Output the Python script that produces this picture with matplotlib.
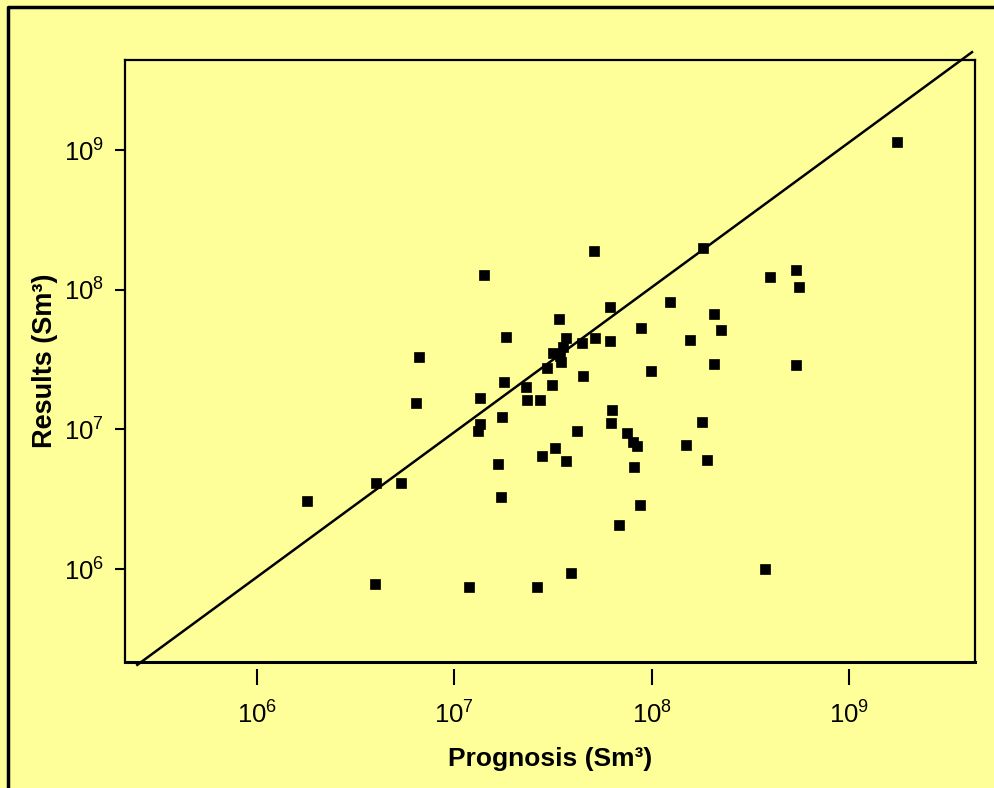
import matplotlib
matplotlib.use("Agg")
import matplotlib.pyplot as plt
from matplotlib.lines import Line2D
from matplotlib.ticker import FixedLocator, NullLocator

plt.rcParams['font.family'] = ['Liberation Sans', 'DejaVu Sans']
plt.rcParams['mathtext.fontset'] = 'custom'
plt.rcParams['mathtext.rm'] = 'Liberation Sans'
plt.rcParams['mathtext.it'] = 'Liberation Sans:italic'
plt.rcParams['mathtext.bf'] = 'Liberation Sans:bold'

# Data (Sm3)
prognosis = [1.79e6, 4.01e6, 5.37e6, 3.96e6, 6.40e6, 6.62e6, 1.41e7, 1.35e7, 1.35e7, 1.32e7,
             1.67e7, 1.72e7, 1.74e7, 1.79e7, 1.83e7, 1.19e7, 2.31e7, 2.34e7, 2.72e7, 2.78e7,
             2.63e7, 2.95e7, 3.13e7, 3.16e7, 3.24e7, 3.40e7, 3.47e7, 3.43e7, 3.55e7, 3.68e7,
             3.68e7, 3.90e7, 4.19e7, 4.44e7, 4.49e7, 5.11e7, 5.17e7, 6.15e7, 6.15e7, 6.23e7,
             6.30e7, 6.84e7, 7.50e7, 8.05e7, 8.43e7, 8.14e7, 8.74e7, 8.84e7, 9.93e7, 1.24e8,
             1.49e8, 1.57e8, 1.80e8, 1.82e8, 1.91e8, 2.07e8, 2.07e8, 2.25e8, 3.75e8, 3.98e8,
             5.40e8, 5.59e8, 5.40e8, 1.75e9]
results = [3.07e6, 4.13e6, 4.13e6, 7.82e5, 1.55e7, 3.30e7, 1.27e8, 1.68e7, 1.09e7, 9.74e6,
           5.65e6, 3.28e6, 1.23e7, 2.18e7, 4.59e7, 7.45e5, 2.01e7, 1.62e7, 1.62e7, 6.45e6,
           7.45e5, 2.75e7, 2.08e7, 3.52e7, 7.36e6, 6.17e7, 3.04e7, 3.35e7, 3.89e7, 4.51e7,
           5.94e6, 9.38e5, 9.74e6, 4.15e7, 2.41e7, 1.89e8, 4.51e7, 7.52e7, 4.29e7, 1.11e7,
           1.38e7, 2.07e6, 9.42e6, 8.12e6, 7.61e6, 5.38e6, 2.88e6, 5.32e7, 2.62e7, 8.17e7,
           7.73e6, 4.36e7, 1.13e7, 1.99e8, 6.04e6, 6.70e7, 2.94e7, 5.15e7, 1.00e6, 1.23e8,
           1.38e8, 1.05e8, 2.89e7, 1.14e9]

# Reference (1:1) line end points
line_x = [2.47e5, 4.21e9]
line_y = [2.06e5, 5.02e9]

tick_vals = [1e6, 1e7, 1e8, 1e9]
tick_labels = [r'$10^{6}$', r'$10^{7}$', r'$10^{8}$', r'$10^{9}$']

bg = '#FFFF99'
fig = plt.figure(figsize=(9.94, 7.88), dpi=100, facecolor=bg)
ax = fig.add_axes([125/994, 1-662/788, 850/994, 602/788])
ax.set_facecolor(bg)
ax.set_xscale('log')
ax.set_yscale('log')
ax.set_xlim(2.14e5, 4.36e9)
ax.set_ylim(2.16e5, 4.41e9)

ax.plot(prognosis, results, linestyle='none', marker='s', markersize=7,
        markerfacecolor='black', markeredgecolor='black', markeredgewidth=0.5, zorder=3)
ax.plot(line_x, line_y, color='black', lw=1.8, clip_on=False, zorder=2)

for s in ['top', 'left', 'right']:
    ax.spines[s].set_linewidth(1.6)
ax.spines['bottom'].set_position(('outward', 5))
ax.spines['bottom'].set_visible(False)
ax.plot([0, 1], [0, 0], transform=ax.transAxes, color='black', lw=2.2,
        clip_on=False, solid_capstyle='projecting', zorder=4)

ax.xaxis.set_major_locator(FixedLocator(tick_vals))
ax.yaxis.set_major_locator(FixedLocator(tick_vals))
ax.xaxis.set_minor_locator(NullLocator())
ax.yaxis.set_minor_locator(NullLocator())
ax.set_xticklabels(tick_labels)
ax.set_yticklabels(tick_labels)
ax.tick_params(axis='x', direction='out', length=11.5, width=1.5, pad=12, labelsize=18.5)
ax.tick_params(axis='y', direction='out', length=7, width=1.5, pad=8, labelsize=18.5)

ax.set_xlabel('Prognosis (Sm³)', fontsize=19, fontweight='bold', labelpad=13)
ax.set_ylabel('Results (Sm³)', fontsize=19.5, fontweight='bold', labelpad=4)

# outer border (top and left edges)
fig.add_artist(Line2D([8/994, 8/994, 1.0], [0.0, 1-7/788, 1-7/788],
                      transform=fig.transFigure, color='black', lw=2.5))

fig.savefig('out.png', dpi=100, facecolor=bg)
